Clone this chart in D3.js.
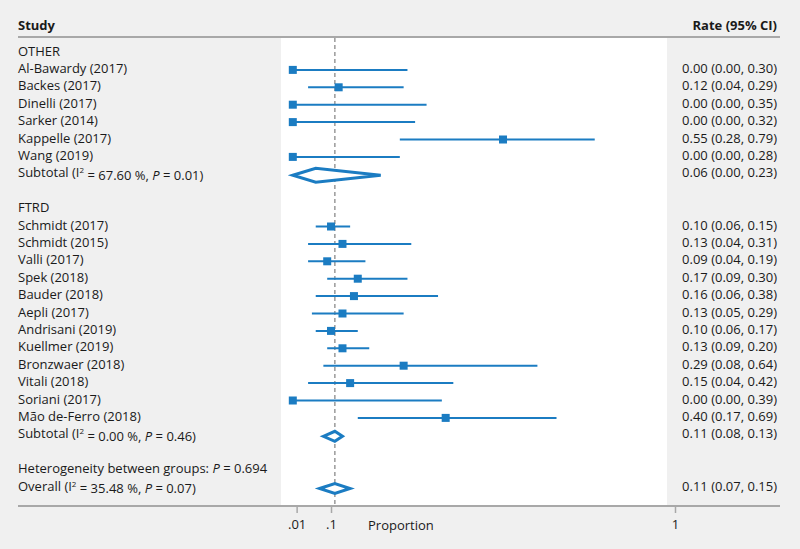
<!DOCTYPE html>
<html>
<head>
<meta charset="utf-8">
<script src="https://cdn.jsdelivr.net/npm/d3@7"></script>
<style>
  body { margin: 0; background: #f0f0f0; }
  svg { display: block; font-family: "Open Sans", sans-serif; }
</style>
</head>
<body>
<svg id="chart"></svg>
<script>
// data
const otherStudies = ["Al-Bawardy (2017)", "Backes (2017)", "Dinelli (2017)", "Sarker (2014)", "Kappelle (2017)", "Wang (2019)"];
const otherRate = [0.00, 0.12, 0.00, 0.00, 0.55, 0.00];
const otherLow  = [0.00, 0.04, 0.00, 0.00, 0.28, 0.00];
const otherHigh = [0.30, 0.29, 0.35, 0.32, 0.79, 0.28];

const ftrdStudies = ["Schmidt (2017)", "Schmidt (2015)", "Valli (2017)", "Spek (2018)", "Bauder (2018)", "Aepli (2017)",
  "Andrisani (2019)", "Kuellmer (2019)", "Bronzwaer (2018)", "Vitali (2018)", "Soriani (2017)", "Mão de-Ferro (2018)"];
const ftrdRate = [0.10, 0.13, 0.09, 0.17, 0.16, 0.13, 0.10, 0.13, 0.29, 0.15, 0.00, 0.40];
const ftrdLow  = [0.06, 0.04, 0.04, 0.09, 0.06, 0.05, 0.06, 0.09, 0.08, 0.04, 0.00, 0.17];
const ftrdHigh = [0.15, 0.31, 0.19, 0.30, 0.38, 0.29, 0.17, 0.20, 0.64, 0.42, 0.39, 0.69];

// subtotal / overall: [rate, low, high]
const otherSubtotal = [0.06, 0.00, 0.23];
const ftrdSubtotal = [0.11, 0.08, 0.13];
const overall = [0.11, 0.07, 0.15];
const otherHet = ["67.60", "0.01"];
const ftrdHet = ["0.00", "0.46"];
const overallHet = ["35.48", "0.07"];
const betweenP = "0.694";

const tickValues = [0.01, 0.1, 1];
const tickLabels = [".01", ".1", "1"];

const WIDTH = 800, HEIGHT = 549;
const BLUE = "#1b7cc2";
const TEXT = "#1a1a1a";
const fmt = d3.format(".2f");

const svg = d3.select("#chart").attr("width", WIDTH).attr("height", HEIGHT);

const x = d3.scaleLinear().domain([0, 1]).range([292.8, 675]);
const y = d3.scaleLinear().domain([0, 25]).range([52.5, 487.5]);

// build row table
const rows = [];
rows.push({row: 0, type: "group", label: "OTHER"});
otherStudies.forEach((s, i) => rows.push({row: 1 + i, type: "study", label: s, est: otherRate[i], lo: otherLow[i], hi: otherHigh[i]}));
rows.push({row: 7, type: "sub", het: otherHet, est: otherSubtotal[0], lo: otherSubtotal[1], hi: otherSubtotal[2], label: "Subtotal", h: 7});
rows.push({row: 9, type: "group", label: "FTRD"});
ftrdStudies.forEach((s, i) => rows.push({row: 10 + i, type: "study", label: s, est: ftrdRate[i], lo: ftrdLow[i], hi: ftrdHigh[i]}));
rows.push({row: 22, type: "sub", het: ftrdHet, est: ftrdSubtotal[0], lo: ftrdSubtotal[1], hi: ftrdSubtotal[2], label: "Subtotal", h: 5});
rows.push({row: 24, type: "between"});
rows.push({row: 25, type: "sub", het: overallHet, est: overall[0], lo: overall[1], hi: overall[2], label: "Overall", h: 5});

// white plot panel
svg.append("rect")
  .attr("x", 281).attr("y", 38)
  .attr("width", 667 - 281).attr("height", 505 - 38)
  .attr("fill", "#ffffff");

// header
svg.append("text").attr("x", 18).attr("y", 25).attr("dy", "0.35em")
  .attr("font-size", 13).attr("font-weight", "bold").attr("fill", TEXT).text("Study");
svg.append("text").attr("x", 777).attr("y", 25).attr("dy", "0.35em").attr("text-anchor", "end")
  .attr("font-size", 13).attr("font-weight", "bold").attr("fill", TEXT).text("Rate (95% CI)");
svg.append("line").attr("x1", 18).attr("x2", 780).attr("y1", 37).attr("y2", 37)
  .attr("stroke", "#a8a8a8").attr("stroke-width", 2);

// reference line at overall estimate
svg.append("line")
  .attr("x1", x(overall[0])).attr("x2", x(overall[0]))
  .attr("y1", 38).attr("y2", 505)
  .attr("stroke", "#a0a0a0").attr("stroke-width", 1.6).attr("stroke-dasharray", "4,3");

// left labels
const labels = svg.append("g").attr("font-size", 13).attr("fill", TEXT);
rows.forEach(r => {
  const t = labels.append("text").attr("x", 18).attr("y", y(r.row) - 1.5).attr("dy", "0.35em");
  if (r.type === "group" || r.type === "study") {
    t.text(r.label);
  } else if (r.type === "sub") {
    t.append("tspan").text(r.label + " (I");
    t.append("tspan").attr("font-size", 8).attr("dy", "-0.5em").text("2");
    t.append("tspan").attr("dy", "0.5em").text(" = " + r.het[0] + " %, ");
    t.append("tspan").attr("font-style", "italic").text("P");
    t.append("tspan").text(" = " + r.het[1] + ")");
  } else if (r.type === "between") {
    t.append("tspan").text("Heterogeneity between groups: ");
    t.append("tspan").attr("font-style", "italic").text("P");
    t.append("tspan").text(" = " + betweenP);
  }
});

// right column values
svg.append("g").attr("font-size", 13).attr("fill", TEXT)
  .selectAll("text")
  .data(rows.filter(r => r.est !== undefined))
  .enter().append("text")
  .attr("x", 777).attr("y", r => y(r.row) - 1.5).attr("dy", "0.35em")
  .attr("text-anchor", "end")
  .text(r => `${fmt(r.est)} (${fmt(r.lo)}, ${fmt(r.hi)})`);

// CI lines and squares
const studies = rows.filter(r => r.type === "study");
svg.append("g").selectAll("line")
  .data(studies).enter().append("line")
  .attr("x1", r => x(r.lo)).attr("x2", r => x(r.hi))
  .attr("y1", r => y(r.row)).attr("y2", r => y(r.row))
  .attr("stroke", BLUE).attr("stroke-width", 2);
svg.append("g").selectAll("rect")
  .data(studies).enter().append("rect")
  .attr("x", r => x(r.est) - 4).attr("y", r => y(r.row) - 4)
  .attr("width", 8).attr("height", 8)
  .attr("fill", BLUE);

// diamonds
svg.append("g").selectAll("path")
  .data(rows.filter(r => r.type === "sub")).enter().append("path")
  .attr("d", r => {
    const cy = y(r.row) + 1, h = r.h;
    return `M${x(r.lo)},${cy}L${x(r.est)},${cy - h}L${x(r.hi)},${cy}L${x(r.est)},${cy + h}Z`;
  })
  .attr("fill", "#ffffff").attr("stroke", BLUE).attr("stroke-width", 3)
  .attr("stroke-linejoin", "miter");

// x axis
svg.append("line").attr("x1", 18).attr("x2", 780).attr("y1", 506).attr("y2", 506)
  .attr("stroke", "#a8a8a8").attr("stroke-width", 2);
const axis = svg.append("g")
  .attr("transform", "translate(0,506)")
  .call(d3.axisBottom(x).tickValues(tickValues).tickSize(7).tickSizeOuter(0)
    .tickFormat((d, i) => tickLabels[i]));
axis.select(".domain").remove();
axis.selectAll(".tick line").attr("stroke", "#a8a8a8").attr("stroke-width", 1.5);
axis.selectAll(".tick text").attr("fill", TEXT).attr("font-size", 13)
  .attr("font-family", "'Open Sans', sans-serif").attr("y", 14);
svg.append("text").attr("x", 368).attr("y", 525).attr("dy", "0.35em")
  .attr("font-size", 13).attr("fill", TEXT).text("Proportion");
</script>
</body>
</html>
